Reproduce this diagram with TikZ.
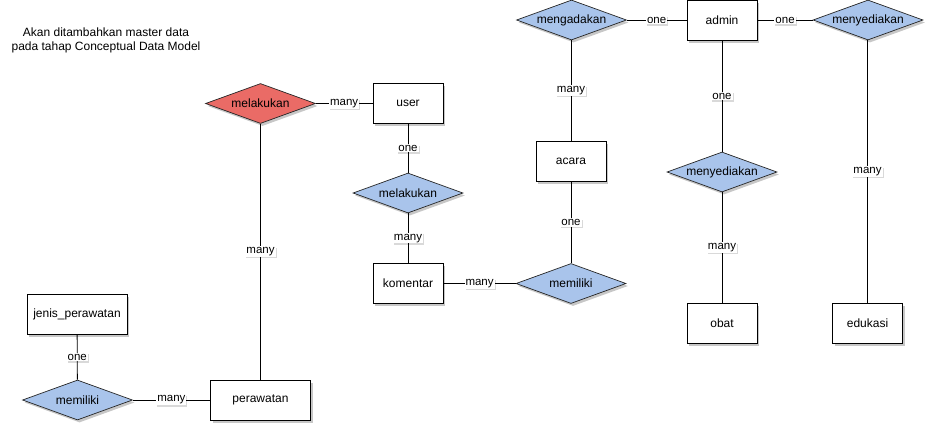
\documentclass[tikz,border=0pt]{standalone}
\usepackage{fontspec}
\setmainfont{Liberation Sans}
\usetikzlibrary{shapes.geometric,shadows}
\definecolor{relblue}{HTML}{A9C4EB}
\definecolor{relred}{HTML}{EA6B66}
\tikzset{
  softshadow/.style={drop shadow={shadow xshift=2pt,shadow yshift=-2.5pt,fill=black,opacity=0.22}},
  entity/.style={draw=black,line width=1pt,fill=white,minimum width=70pt,minimum height=40pt,
    inner sep=0pt,font=\fontsize{12}{14}\selectfont,softshadow},
  wide/.style={minimum width=100pt},
  relation/.style={diamond,aspect=2.75,draw=black!85,line width=0.7pt,fill=relblue,minimum width=110pt,
    minimum height=40pt,inner sep=0pt,font=\fontsize{12}{14}\selectfont,softshadow},
  hot/.style={fill=relred},
  link/.style={draw=black,line width=0.8pt},
  card/.style={fill=white,inner sep=1pt,font=\fontsize{11.5}{12}\selectfont,
    drop shadow={shadow xshift=1pt,shadow yshift=-1.5pt,fill=black,opacity=0.15}},
  note/.style={align=center,font=\fontsize{12}{14}\selectfont}
}
\begin{document}
\begin{tikzpicture}[x=1pt,y=-1pt]
\useasboundingbox (0,0) rectangle (934,432);

% comment box text
\node[note] (note) at (106,40) {Akan ditambahkan master data\\pada tahap Conceptual Data Model};

% entities
\node[entity] (user) at (408,103.5) {user};
\node[entity] (komentar) at (408,283.5) {komentar};
\node[entity] (acara) at (571,161.5) {acara};
\node[entity] (admin) at (722,20) {admin};
\node[entity] (obat) at (722,323.5) {obat};
\node[entity] (edukasi) at (867.5,323.5) {edukasi};
\node[entity,wide] (jenis) at (77,314) {jenis\_perawatan};
\node[entity,wide] (perawatan) at (260.5,400) {perawatan};

% relationships
\node[relation,hot] (melakukanA) at (260.5,103.5) {melakukan};
\node[relation] (melakukanB) at (408,193) {melakukan};
\node[relation] (memilikiA) at (571,283.5) {memiliki};
\node[relation] (mengadakan) at (571.5,20) {mengadakan};
\node[relation] (menyediakanA) at (868,20) {menyediakan};
\node[relation] (menyediakanB) at (722,172) {menyediakan};
\node[relation] (memilikiB) at (77.5,400) {memiliki};

% connectors with cardinalities
\path[link] (melakukanA) -- node[card] {many} (user);
\path[link] (melakukanA) -- node[card] {many} (melakukanA |- perawatan.north);
\path[link] (user) -- node[card] {one} (melakukanB);
\path[link] (melakukanB) -- node[card] {many} (komentar);
\path[link] (komentar) -- node[card] {many} (memilikiA);
\path[link] (memilikiA) -- node[card] {one} (acara);
\path[link] (acara) -- node[card] {many} (mengadakan.south -| acara);
\path[link] (mengadakan) -- node[card] {one} (admin);
\path[link] (admin) -- node[card] {one} (menyediakanA);
\path[link] (admin) -- node[card] {one} (menyediakanB);
\path[link] (menyediakanB) -- node[card] {many} (obat);
\path[link] (menyediakanA.south -| edukasi) -- node[card] {many} (edukasi);
\path[link] (perawatan) -- node[card] {many} (memilikiB);
\path[link] (memilikiB) -- node[card] {one} (jenis);
\end{tikzpicture}
\end{document}
